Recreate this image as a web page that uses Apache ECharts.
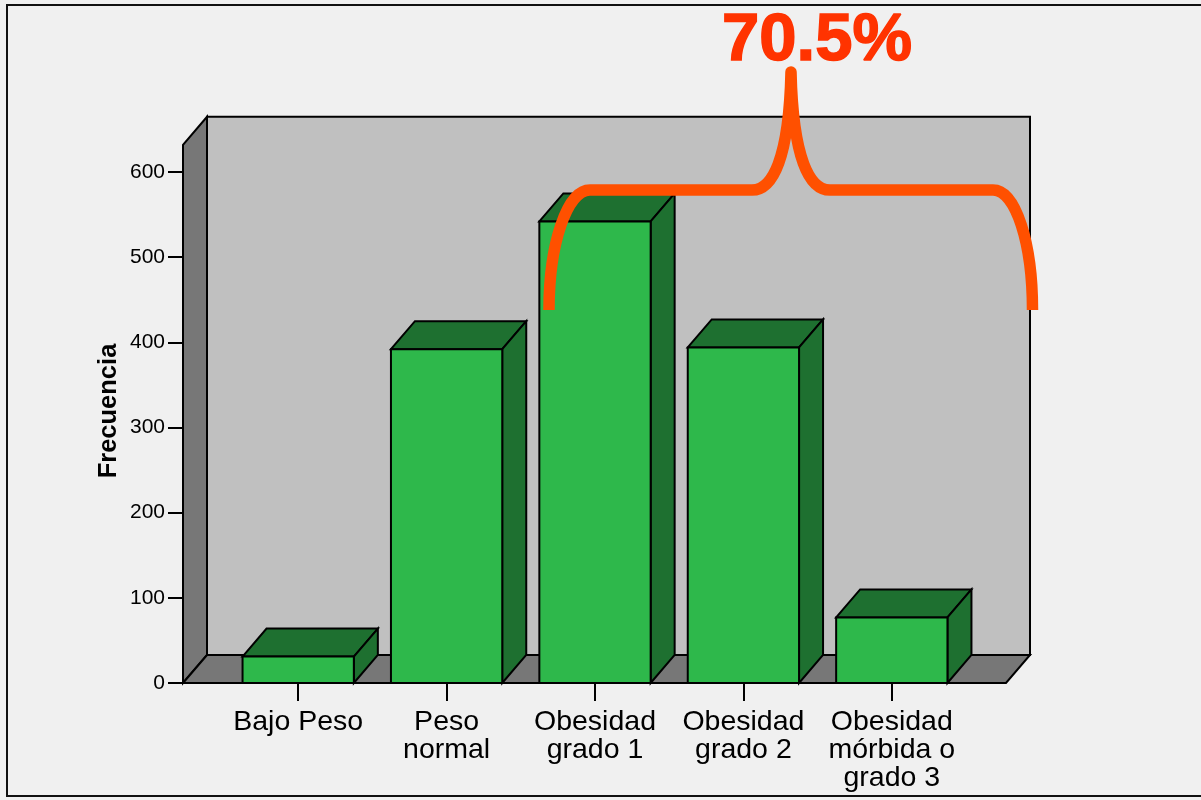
<!DOCTYPE html>
<html>
<head>
<meta charset="utf-8">
<script src="https://cdn.jsdelivr.net/npm/echarts@6/dist/echarts.min.js"></script>
<style>
  html, body { margin: 0; padding: 0; background: #f0f0f0; }
  #chart { width: 1201px; height: 800px; }
</style>
</head>
<body>
<div id="chart"></div>
<script>
// ---- data ----
const categories = ['Bajo Peso', 'Peso\nnormal', 'Obesidad\ngrado 1', 'Obesidad\ngrado 2', 'Obesidad\nmórbida o\ngrado 3'];
const frecuencia = [31, 392, 542, 394, 77];
const yTicks = [0, 100, 200, 300, 400, 500, 600];
const braceLabel = '70.5%';
const axisTitle = 'Frecuencia';

// ---- style constants ----
const DX = 24, DY = -28;           // 3D depth offset
const WALL_TOP = 632;              // wall height in value units
const FRONT = '#2eb84b', DARK = '#1e7030';
const FONT = '"Liberation Sans", Arial, Helvetica, sans-serif';
const BRACE_PATH = 'M549 310 C549 244 567 190 590 190 L752 190 C772 190 789 160 791 72 C793 160 810 190 830 190 L993 190 C1016 190 1032.5 244 1032.5 310';

const chart = echarts.init(document.getElementById('chart'));

function wallsRender(params, api) {
  const cs = params.coordSys;
  const xl = cs.x - 41, xr = cs.x + cs.width + 40;
  const yb = cs.y + cs.height;
  const yt = api.coord([0, WALL_TOP])[1];
  const st = { stroke: '#000', lineWidth: 2 };
  return {
    type: 'group',
    children: [
      { type: 'rect', shape: { x: xl + DX, y: yt + DY, width: xr - xl, height: yb - yt },
        style: Object.assign({ fill: '#c0c0c0' }, st) },
      { type: 'polygon', shape: { points: [[xl, yb], [xl, yt], [xl + DX, yt + DY], [xl + DX, yb + DY]] },
        style: Object.assign({ fill: '#777777' }, st) },
      { type: 'polygon', shape: { points: [[xl, yb], [xl + DX, yb + DY], [xr + DX, yb + DY], [xr, yb]] },
        style: Object.assign({ fill: '#777777' }, st) }
    ]
  };
}

function barRender(params, api) {
  const i = api.value(0), v = api.value(1);
  const top = api.coord([i, v]);
  const base = api.coord([i, 0]);
  const w = api.size([1, 0])[0] * 0.75;
  const xl = top[0] - w / 2, xr = top[0] + w / 2, yt = top[1], yb = base[1];
  const st = { stroke: '#000', lineWidth: 2 };
  return {
    type: 'group',
    children: [
      { type: 'polygon', shape: { points: [[xl, yt], [xl + DX, yt + DY], [xr + DX, yt + DY], [xr, yt]] },
        style: Object.assign({ fill: DARK }, st) },
      { type: 'polygon', shape: { points: [[xr, yt], [xr + DX, yt + DY], [xr + DX, yb + DY], [xr, yb]] },
        style: Object.assign({ fill: DARK }, st) },
      { type: 'rect', shape: { x: xl, y: yt, width: w, height: yb - yt },
        style: Object.assign({ fill: FRONT }, st) }
    ]
  };
}

function braceRender(params, api) {
  return {
    type: 'path',
    shape: { pathData: BRACE_PATH },
    style: { fill: 'none', stroke: '#ff5000', lineWidth: 11.5, lineJoin: 'round', lineCap: 'butt' }
  };
}

const option = {
  animation: false,
  backgroundColor: '#f0f0f0',
  grid: { left: 224, right: 235, top: 172, bottom: 117 },
  xAxis: {
    type: 'category',
    data: categories,
    axisLine: { show: false },
    axisTick: { show: true, alignWithLabel: true, length: 18, lineStyle: { color: '#000', width: 2 } },
    axisLabel: { color: '#000', fontSize: 28.5, lineHeight: 28, fontFamily: FONT, margin: 25, interval: 0 },
    splitLine: { show: false }
  },
  yAxis: {
    type: 'value',
    min: yTicks[0],
    max: yTicks[yTicks.length - 1],
    interval: 100,
    offset: 41,
    axisLine: { show: false },
    axisTick: { show: true, length: 15, lineStyle: { color: '#000', width: 2 } },
    axisLabel: { color: '#000', fontSize: 21, fontFamily: FONT, margin: 18 },
    splitLine: { show: false }
  },
  series: [
    { type: 'custom', name: 'walls', z: 1, clip: false, renderItem: wallsRender, data: [[0, 0]], silent: true },
    { type: 'custom', name: 'Frecuencia', z: 2, clip: false, renderItem: barRender,
      encode: { x: 0, y: 1 },
      data: frecuencia.map((v, i) => [i, v]) },
    { type: 'custom', name: 'brace', z: 3, clip: false, renderItem: braceRender, data: [[0, 0]], silent: true }
  ],
  graphic: [
    { type: 'rect', z: 100, silent: true,
      shape: { x: 7, y: 5, width: 1200, height: 791 },
      style: { fill: 'none', stroke: '#111', lineWidth: 2 } },
    { type: 'text', z: 100, x: 109, y: 411, rotation: Math.PI / 2,
      style: { text: axisTitle, font: 'bold 25.5px ' + FONT, fill: '#000', textAlign: 'center', textVerticalAlign: 'middle' } },
    { type: 'text', z: 100, x: 817, y: 42,
      style: { text: braceLabel, font: 'bold 67px ' + FONT, fill: '#ff3300', stroke: '#ff3300', lineWidth: 1.5,
               textAlign: 'center', textVerticalAlign: 'middle' } }
  ]
};
chart.setOption(option);
</script>
</body>
</html>
